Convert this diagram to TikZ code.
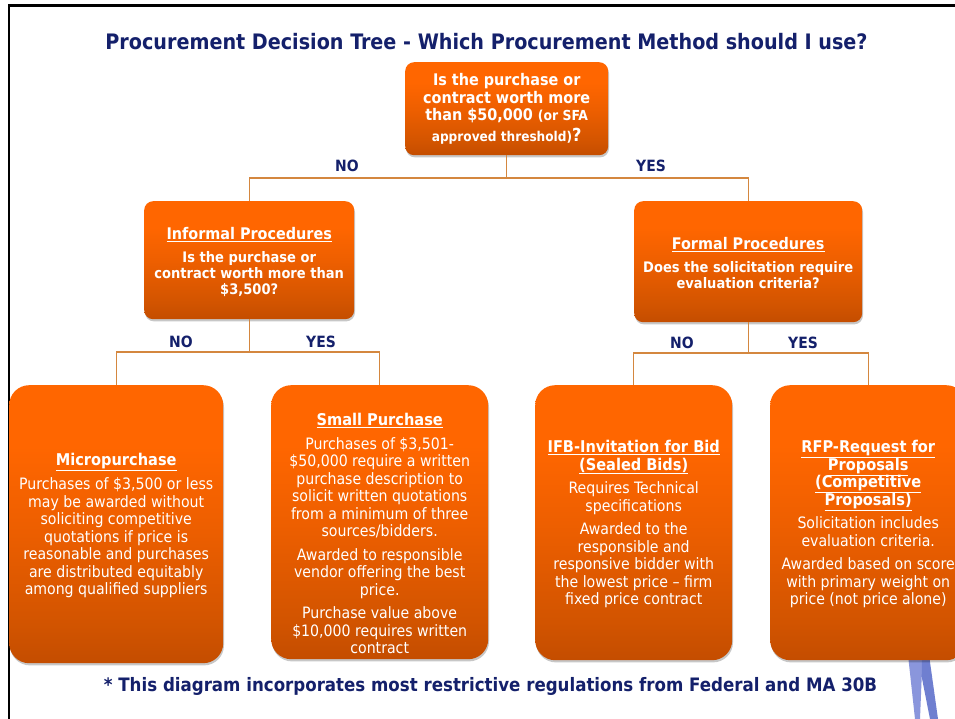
\documentclass[tikz,border=0pt]{standalone}
\usepackage{fontspec}
\setmainfont{DejaVu Sans Condensed}
\usetikzlibrary{shadows}
\definecolor{navy}{HTML}{14206B}
\definecolor{linec}{HTML}{D4873F}
\definecolor{legc}{HTML}{8A96DC}
\definecolor{legd}{HTML}{6F7FD0}
\definecolor{o1}{HTML}{FF6600}
\definecolor{o1b}{HTML}{EE5F00}
\definecolor{o2}{HTML}{D25400}
\definecolor{o3}{HTML}{C44D00}
\pgfdeclareverticalshading{ograd}{100bp}{
  color(0bp)=(o3);color(25bp)=(o3);color(32bp)=(o2);color(50bp)=(o1b);color(64bp)=(o1);color(100bp)=(o1)}
\tikzset{
  box/.style={rectangle,rounded corners=9pt,shading=ograd,inner sep=0pt,text=white,align=center,anchor=north west,
    execute at begin node={\lineskiplimit=-10pt\relax},
    drop shadow={shadow xshift=0.8pt,shadow yshift=-2.2pt,opacity=.22,fill=black}},
  qbox/.style={box,font=\fontsize{14.5}{16.2}\selectfont\bfseries},
  leaf/.style={box,rounded corners=20pt,font=\fontsize{15.7}{17.5}\selectfont},
  conn/.style={draw=linec,line width=1.2pt},
  lab/.style={text=navy,font=\fontsize{15.5}{18}\selectfont\bfseries,inner sep=0pt},
  head/.style={text=navy,font=\fontsize{21.3}{24}\selectfont\bfseries,inner sep=0pt},
  foot/.style={text=navy,font=\fontsize{18.5}{22}\selectfont\bfseries,inner sep=0pt}
}
\newcommand{\ttl}[1]{{\fontsize{16.2}{17.5}\selectfont\bfseries\underline{#1}}}
\begin{document}
\begin{tikzpicture}[x=1pt,y=-1pt]
\useasboundingbox (0,0) rectangle (955,719);
\clip (0,0) rectangle (955,719);
\fill[white] (0,0) rectangle (955,719);
\draw[line width=2.6pt,black] (9,800) -- (9,5.3) -- (1000,5.3);
% legs
\fill[legc] (908,655) -- (925,655) -- (921.7,677) -- (920,719) -- (915,719) -- cycle;
\fill[legd] (921.7,677) -- (922,655) -- (929,655) -- (938,719) -- (930,719) -- cycle;
\node[head] (title) at (486.5,42) {Procurement Decision Tree - Which Procurement Method should I use?};
\node[foot] (footer) at (490.5,686) {* This diagram incorporates most restrictive regulations from Federal and MA 30B};

\node[qbox,font=\fontsize{16}{17.5}\selectfont\bfseries,minimum width=203pt,minimum height=93pt] (top) at (405,62)
 {Is the purchase or\\contract worth more\\than \$50,000 {\fontsize{13.8}{17}\selectfont (or SFA}\\[3pt]{\fontsize{13.5}{17}\selectfont approved threshold)}{\fontsize{18}{17}\selectfont ?}};
\node[qbox,minimum width=210pt,minimum height=118pt] (inf) at (144,201)
 {\rule{0pt}{16pt}{\fontsize{16}{17}\selectfont\underline{Informal Procedures}}\\[7pt]Is the purchase or\\contract worth more than\\\$3,500?};
\node[qbox,minimum width=228pt,minimum height=121pt] (frm) at (634,201)
 {\rule{0pt}{15pt}{\fontsize{16}{17}\selectfont\underline{Formal Procedures}}\\[6.5pt]Does the solicitation require\\evaluation criteria?};
\node[leaf,minimum width=214pt,minimum height=278pt] (mic) at (9,385)
 {\rule{0pt}{15pt}\ttl{Micropurchase}\\[6.5pt]Purchases of \$3,500 or less\\may be awarded without\\soliciting competitive\\quotations if price is\\reasonable and purchases\\are distributed equitably\\among qualified suppliers};
\node[leaf,minimum width=217pt,minimum height=274pt] (sml) at (271,385)
 {\rule{0pt}{35pt}\ttl{Small Purchase}\\[6.5pt]Purchases of \$3,501-\\\$50,000 require a written\\purchase description to\\solicit written quotations\\from a minimum of three\\sources/bidders.\\[6pt]Awarded to responsible\\vendor offering the best\\price.\\[6pt]Purchase value above\\\$10,000 requires written\\contract};
\node[leaf,minimum width=197pt,minimum height=275pt] (ifb) at (535,385)
 {\rule{0pt}{15pt}\ttl{IFB-Invitation for Bid}\\\ttl{(Sealed Bids)}\\[6pt]Requires Technical\\specifications\\[6pt]Awarded to the\\responsible and\\responsive bidder with\\the lowest price -- firm\\fixed price contract};
\node[leaf,minimum width=196pt,minimum height=275pt] (rfp) at (770,385)
 {\rule{0pt}{15pt}\ttl{RFP-Request for}\\\ttl{Proposals}\\\ttl{(Competitive}\\\ttl{Proposals)}\\[6pt]Solicitation includes\\evaluation criteria.\\[6pt]Awarded based on score\\with primary weight on\\price (not price alone)};

\coordinate (b1) at (top.south |- 0,178);
\coordinate (b2) at (inf.south |- 0,352);
\coordinate (b3) at (frm.south |- 0,353);
\draw[conn] (top.south) -- (b1);
\draw[conn] (b1) -| (inf.north);
\draw[conn] (b1) -| (frm.north);
\draw[conn] (inf.south) -- (b2);
\draw[conn] (b2) -| (mic.north);
\draw[conn] (b2) -| (sml.north);
\draw[conn] (frm.south) -- (b3);
\draw[conn] (b3) -| (ifb.north);
\draw[conn] (b3) -| (rfp.north);

\node[lab] (l1) at (347,165.5) {NO};
\node[lab] (l2) at (651,165.5) {YES};
\node[lab] (l3) at (181,341.5) {NO};
\node[lab] (l4) at (321,341.5) {YES};
\node[lab] (l5) at (682,342.5) {NO};
\node[lab] (l6) at (803,342.5) {YES};
\end{tikzpicture}
\end{document}
